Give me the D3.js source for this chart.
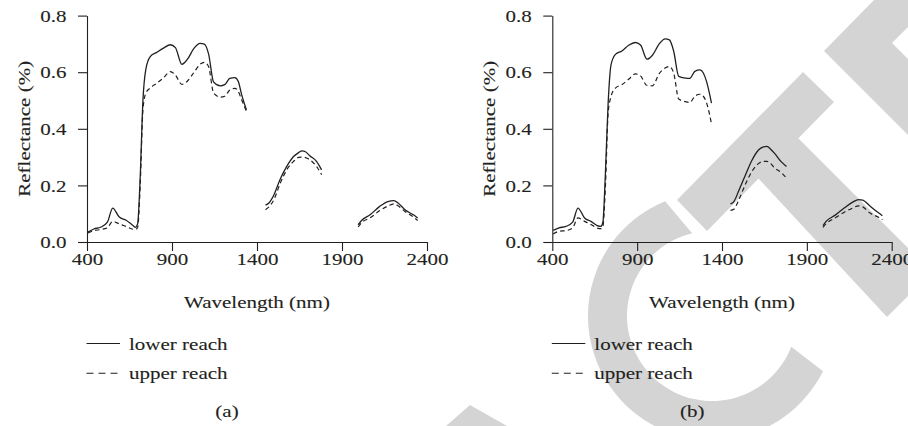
<!DOCTYPE html>
<html>
<head>
<meta charset="utf-8">
<script src="https://cdn.jsdelivr.net/npm/d3@7"></script>
<style>
  html, body { margin: 0; padding: 0; background: #fff; }
  svg { display: block; }
  text { font-family: "Liberation Serif", "Times New Roman", serif; fill: #231f20; stroke: #231f20; stroke-width: 0.12px; }
</style>
</head>
<body>
<svg id="chart" width="908" height="426"></svg>
<script>
// ---------------- DATA ----------------
const xTicks = [400, 900, 1400, 1900, 2400];
const yTicks = [0.0, 0.2, 0.4, 0.6, 0.8];
const seriesNames = ["lower reach", "upper reach"];
const panelCaptions = ["(a)", "(b)"];
const xTitle = "Wavelength (nm)";
const yTitle = "Reflectance (%)";

// wavelength grids of the three measured bands (nm)
const wlBand1 = [405, 440, 480, 520, 551, 590, 630, 665, 685, 698, 713, 729, 746, 772, 810, 850, 890, 920, 958, 990, 1030, 1065, 1090, 1115, 1145, 1185, 1210, 1240, 1270, 1290, 1310, 1338];
const wlBand2 = [1450, 1470, 1500, 1535, 1575, 1615, 1645, 1665, 1685, 1710, 1750, 1780];
const wlBand3 = [1995, 2015, 2065, 2120, 2170, 2205, 2230, 2270, 2320, 2345];

// panel (a)
const lowerA1 = [0.035, 0.046, 0.052, 0.070, 0.120, 0.088, 0.077, 0.061, 0.052, 0.065, 0.230, 0.500, 0.610, 0.655, 0.670, 0.685, 0.697, 0.687, 0.628, 0.645, 0.685, 0.702, 0.699, 0.665, 0.565, 0.552, 0.556, 0.578, 0.581, 0.567, 0.520, 0.467];
const upperA1 = [0.032, 0.040, 0.044, 0.050, 0.073, 0.064, 0.055, 0.046, 0.044, 0.052, 0.200, 0.467, 0.526, 0.544, 0.561, 0.580, 0.602, 0.590, 0.557, 0.568, 0.600, 0.628, 0.635, 0.620, 0.526, 0.512, 0.515, 0.537, 0.543, 0.532, 0.502, 0.461];
const lowerA2 = [0.130, 0.138, 0.167, 0.220, 0.267, 0.302, 0.316, 0.322, 0.319, 0.305, 0.285, 0.255];
const upperA2 = [0.114, 0.124, 0.150, 0.205, 0.255, 0.285, 0.299, 0.300, 0.298, 0.291, 0.267, 0.238];
const lowerA3 = [0.061, 0.076, 0.096, 0.125, 0.143, 0.146, 0.138, 0.114, 0.096, 0.085];
const upperA3 = [0.053, 0.068, 0.085, 0.110, 0.127, 0.135, 0.128, 0.108, 0.088, 0.076];

// panel (b)
const lowerB1 = [0.041, 0.050, 0.055, 0.070, 0.120, 0.085, 0.072, 0.058, 0.055, 0.069, 0.244, 0.490, 0.626, 0.663, 0.675, 0.695, 0.705, 0.696, 0.646, 0.660, 0.700, 0.718, 0.714, 0.675, 0.585, 0.579, 0.578, 0.603, 0.608, 0.597, 0.565, 0.491];
const upperB1 = [0.028, 0.038, 0.040, 0.050, 0.085, 0.073, 0.061, 0.049, 0.047, 0.055, 0.196, 0.455, 0.514, 0.544, 0.556, 0.575, 0.594, 0.587, 0.553, 0.552, 0.595, 0.615, 0.620, 0.598, 0.505, 0.496, 0.493, 0.515, 0.522, 0.515, 0.490, 0.418];
const lowerB2 = [0.135, 0.143, 0.183, 0.232, 0.287, 0.325, 0.336, 0.338, 0.329, 0.313, 0.283, 0.267];
const upperB2 = [0.112, 0.116, 0.150, 0.200, 0.248, 0.277, 0.285, 0.285, 0.278, 0.262, 0.245, 0.226];
const lowerB3 = [0.058, 0.074, 0.094, 0.120, 0.141, 0.150, 0.148, 0.128, 0.104, 0.093];
const upperB3 = [0.052, 0.066, 0.084, 0.105, 0.120, 0.128, 0.124, 0.103, 0.088, 0.079];

// ---------------- DRAW ----------------
const svg = d3.select("#chart");
const ink = "#231f20";
const FS = 17.5;
const STRETCH = 1.2;

function stretch(sel) {
  sel.each(function () {
    const L = this.getComputedTextLength();
    this.setAttribute("textLength", L * STRETCH);
    this.setAttribute("lengthAdjust", "spacingAndGlyphs");
  });
}

// background watermark (decorative)
const wm = svg.append("g").attr("fill", "#d4d4d4");
const polys = [
  [[677, 200], [803, 72], [834, 102], [707, 231]],
  [[758, 178], [798, 138], [908, 248], [908, 296], [887, 317]],
  [[824, 51], [874, 0], [908, 0], [908, 27], [892, 43], [908, 59], [908, 135]],
  [[446, 426], [470, 405], [507, 426]]
];
polys.forEach(p => wm.append("polygon").attr("points", p.map(d => d.join(",")).join(" ")));
(function () {
  const cx = 712, cy = 316, ro = 124, ri = 85;
  const rad = a => a * Math.PI / 180;
  const P = (r, a) => [cx + r * Math.cos(rad(a)), cy + r * Math.sin(rad(a))];
  const o1 = P(ro, 26.4), o2 = P(ro, 247.8), i1 = P(ri, 256.5), i2 = P(ri, 21.2);
  const d = `M${o1}A${ro},${ro} 0 1 1 ${o2}L${i1}A${ri},${ri} 0 1 0 ${i2}Z`;
  wm.append("path").attr("d", d);
})();

const panels = [
  { x0: 87, x1: 427, cap: panelCaptions[0],
    bands: [[wlBand1, lowerA1, upperA1], [wlBand2, lowerA2, upperA2], [wlBand3, lowerA3, upperA3]] },
  { x0: 552.3, x1: 891.7, cap: panelCaptions[1],
    bands: [[wlBand1, lowerB1, upperB1], [wlBand2, lowerB2, upperB2], [wlBand3, lowerB3, upperB3]] }
];

const yTop = 15.6, yBot = 242;
const dashes = [null, "4.5,3.2"];

panels.forEach(p => {
  const g = svg.append("g");
  const x = d3.scaleLinear().domain([400, 2400]).range([p.x0, p.x1]);
  const y = d3.scaleLinear().domain([0, 0.8]).range([yBot, yTop]);

  // axes
  const xa = g.append("g").attr("transform", `translate(0,${yBot})`)
    .call(d3.axisBottom(x).tickValues(xTicks).tickFormat(d3.format("d")).tickSize(9).tickSizeOuter(0));
  const ya = g.append("g").attr("transform", `translate(${p.x0},0)`)
    .call(d3.axisLeft(y).tickValues(yTicks).tickFormat(d3.format(".1f")).tickSize(9).tickSizeOuter(0).tickPadding(11.5));
  [xa, ya].forEach(a => {
    a.select(".domain").attr("stroke", ink).attr("stroke-width", 1.1);
    a.selectAll(".tick line").attr("stroke", ink).attr("stroke-width", 1.1);
    a.selectAll("text").attr("font-size", FS).attr("font-family", null).attr("fill", ink);
  });
  xa.selectAll("text").attr("y", 22.5).attr("dy", 0);
  stretch(xa.selectAll("text"));
  stretch(ya.selectAll("text"));

  // titles
  const xt = g.append("text").attr("x", (p.x0 + p.x1) / 2).attr("y", 308.3)
    .attr("text-anchor", "middle").attr("font-size", FS).text(xTitle);
  const yt = g.append("text").attr("transform", `translate(${p.x0 - 57.5},${(yTop + yBot) / 2}) rotate(-90)`)
    .attr("text-anchor", "middle").attr("font-size", FS).text(yTitle);
  stretch(xt); stretch(yt);

  // curves
  const line = d3.line().x(d => x(d[0])).y(d => y(d[1])).curve(d3.curveMonotoneX);
  p.bands.forEach(b => {
    const wl = b[0];
    [b[1], b[2]].forEach((vals, si) => {
      g.append("path")
        .datum(wl.map((w, i) => [w, vals[i]]))
        .attr("d", line)
        .attr("fill", "none")
        .attr("stroke", ink)
        .attr("stroke-width", si === 0 ? 1.3 : 1.2)
        .attr("stroke-dasharray", dashes[si]);
    });
  });

  // legend
  const ly = [343.5, 373.3], lb = [349.8, 379];
  seriesNames.forEach((nm, i) => {
    g.append("line").attr("x1", p.x0 - 0.5).attr("x2", p.x0 + 33)
      .attr("y1", ly[i]).attr("y2", ly[i]).attr("stroke", ink).attr("stroke-width", 1.1)
      .attr("stroke-dasharray", i === 0 ? null : "7,5");
    const t = g.append("text").attr("x", p.x0 + 42).attr("y", lb[i]).attr("font-size", FS).text(nm);
    stretch(t);
  });

  // caption
  const c = g.append("text").attr("x", p.x0 + 140).attr("y", 416.5)
    .attr("text-anchor", "middle").attr("font-size", FS).text(p.cap);
  stretch(c);
});
</script>
</body>
</html>
